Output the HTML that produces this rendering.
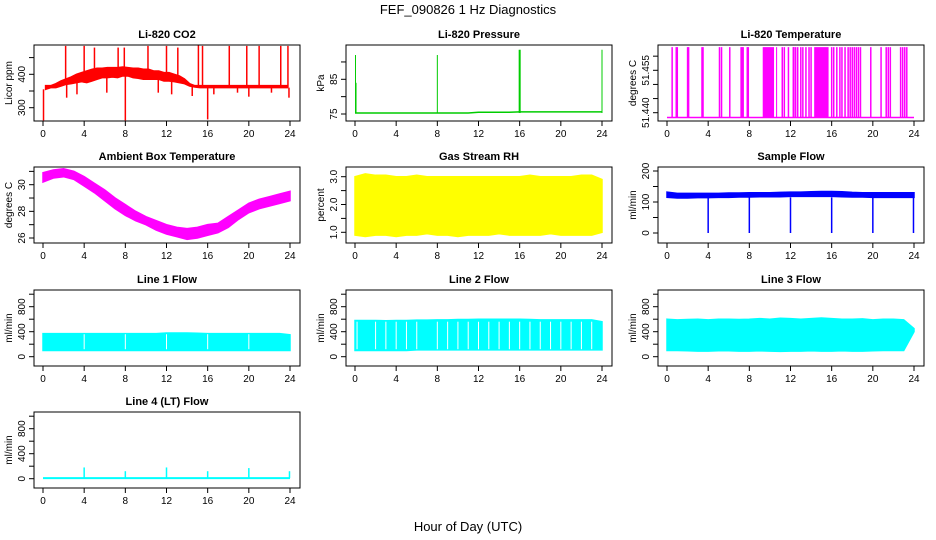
<!DOCTYPE html>
<html><head><meta charset="utf-8"><style>
html,body{margin:0;padding:0;background:#fff}
svg{display:block;font-family:"Liberation Sans",sans-serif}
</style></head><body>
<svg id="c" width="936" height="540" viewBox="0 0 936 540">
<rect width="936" height="540" fill="#fff"/>
<text x="468" y="14" text-anchor="middle" font-size="13">FEF_090826  1 Hz Diagnostics</text>
<text x="468" y="531" text-anchor="middle" font-size="13">Hour of Day (UTC)</text>
</svg>
<script>
// ---------- data ----------
const hourTicks=[0,4,8,12,16,20,24];
const co2Lo=[355,360,360,365,370,372,375,378,375,380,385,390,390,392,390,395,395,390,388,385,385,385,385,380,380,378,375,372,365,362,360,360,360,360,360,360,360,360,360,360,360,360,360,360,360,360,360,360];
const co2Hi=[366,366,372,380,386,392,400,405,410,415,418,418,420,420,420,422,420,418,418,415,415,410,410,405,405,400,395,386,372,366,366,366,366,366,366,366,366,366,366,366,366,366,366,366,366,366,366,366];
const co2SpikeH=[0.05,2.2,4.0,5.0,7.3,7.9,8.0,10.2,12.0,13.1,15.1,15.5,16.0,18.1,19.8,21.0,23.1,23.8,23.9,2.3,3.3,6.2,11.2,12.5,14.5,16.6,18.9,20.0,22.2];
const co2SpikeV=[262,485,485,480,480,480,262,485,485,480,487,485,265,485,485,485,485,485,330,330,340,345,345,340,335,340,345,333,345];
const presBase=[75.3,75.3,75.3,75.3,75.3,75.3,75.3,75.3,75.3,75.3,75.3,75.3,75.5,75.5,75.5,75.5,75.6,75.6,75.6,75.6,75.6,75.6,75.6,75.6,75.6];
const presSpikeH=[0.05,0.1,8.0,16.0,16.03,24.0];
const presSpikeV=[92,84,92,93.5,93.5,93.5];
const tempBase=51.4383;
const tempTop=51.4632;
const tempSpikeH=[0.5,0.9,1.0,2.0,2.1,3.4,3.5,5.1,5.3,6.1,7.2,7.3,7.4,7.8,7.9,11.2,11.4,11.8,12.3,12.5,12.7,13.0,13.2,13.5,13.8,14.0,16.0,16.2,16.5,16.8,17.0,17.3,17.6,17.8,18.0,18.2,18.4,18.6,18.8,19.8,20.8,21.3,21.5,21.7,22.7,22.9,23.1,23.3];
const tempBlockStart=[9.3,10.6,12.2,14.3];
const tempBlockEnd=[10.4,10.7,12.4,15.7];
const ambLo=[30.2,30.5,30.6,30.4,29.9,29.4,28.8,28.2,27.7,27.3,27.0,26.6,26.3,26.1,25.9,26.0,26.2,26.4,26.8,27.4,27.9,28.2,28.4,28.6,28.8];
const ambHi=[30.9,31.1,31.2,31.0,30.6,30.1,29.6,29.0,28.5,28.0,27.6,27.3,27.0,26.8,26.7,26.8,27.0,27.1,27.6,28.1,28.6,28.9,29.1,29.3,29.5];
const rhLo=[0.9,0.85,0.9,0.9,0.85,0.9,0.9,0.95,0.9,0.9,0.85,0.9,0.9,0.9,0.95,0.9,0.9,0.9,0.9,0.95,0.9,0.9,0.9,0.9,1.0];
const rhHi=[3.0,3.1,3.05,3.05,3.0,3.0,3.05,3.0,3.0,3.0,3.0,3.0,3.0,3.0,3.0,3.0,3.0,3.05,3.0,3.0,3.0,3.0,3.05,3.05,2.9];
const sfLo=[115,113,113,114,114,115,115,116,116,117,117,117,118,118,118,118,118,117,116,116,115,115,115,115,115];
const sfHi=[132,128,128,128,128,128,129,129,130,130,130,131,132,132,133,134,134,133,131,130,130,130,130,130,130];
const sfDropH=[4.0,8.0,12.0,16.0,20.0,23.95];
const l1Lo=[100,100,100,100,100,100,100,100,100,100,100,100,100,100,100,100,100,100,100,100,100,100,100,100,100];
const l1Hi=[370,370,370,370,370,370,370,370,370,370,370,370,380,380,380,375,370,370,370,370,370,370,370,370,350];
const l1GapH=[4.0,8.0,12.0,16.0,20.0];
const l2Lo=[100,100,100,100,100,100,110,110,110,110,110,110,110,110,110,110,110,110,110,110,110,110,110,110,110];
const l2Hi=[580,580,580,575,580,580,585,585,590,590,595,595,600,600,600,600,600,595,590,590,590,590,590,590,560];
const l2GapH=[0.2,2.0,3.0,4.0,5.0,6.0,8.0,9.0,10.0,11.0,12.0,13.0,14.0,15.0,16.0,17.0,18.0,19.0,20.0,21.0,22.0,23.0];
const l3Lo=[100,100,95,90,90,95,95,90,90,95,90,85,90,90,95,90,90,95,90,90,95,100,100,100,400];
const l3Hi=[600,590,595,600,590,600,600,595,600,610,600,615,610,600,610,620,610,600,600,605,590,600,600,590,450];
const l4Base=[10,10,10,10,10,10,10,10,10,10,10,10,10,10,10,10,10,10,10,10,10,10,10,10,10];
const l4SpikeH=[4.0,8.0,12.0,16.0,20.0,23.95];
const l4SpikeV=[180,120,180,120,170,120];

// ---------- layout ----------
const colL=[34,346,658], rowT=[45,167,290,412], BW=266, BH=76;
const NS="http://www.w3.org/2000/svg";
const svg=document.getElementById('c');
function el(tag,attrs,parent){const e=document.createElementNS(NS,tag);for(const k in attrs)e.setAttribute(k,attrs[k]);(parent||svg).appendChild(e);return e;}
function X(col,h){return colL[col]+9+h*247/24;}
function mkY(row,map){return v=>rowT[row]+map[1]+(v-map[0])*(map[3]-map[1])/(map[2]-map[0]);}

function panel(col,row,title,ylab,map,ticks,labels,name){
  const g=el('g',{});
  
  
  const L=colL[col],T=rowT[row],Y=mkY(row,map);
  const t=el('text',{x:L+BW/2,y:T-7,'text-anchor':'middle','font-size':11,'font-weight':'bold'},g);
  t.textContent=title;
  
  
  const yl=el('text',{x:0,y:0,'text-anchor':'middle','font-size':10,transform:`translate(${L-22},${T+BH/2}) rotate(-90)`},g);
  yl.textContent=ylab;
  
  
  ticks.forEach((v,i)=>{
    const y=Y(v);
    el('line',{x1:L-5,x2:L,y1:y,y2:y,stroke:'#000','stroke-width':1},g);
    if(labels[i]!==''){
      const tl=el('text',{x:0,y:0,'text-anchor':'middle','font-size':10,transform:`translate(${L-9},${y}) rotate(-90)`},g);
      tl.textContent=labels[i];
      
      
    }
  });
  hourTicks.forEach(h=>{
    const x=X(col,h);
    el('line',{x1:x,x2:x,y1:T+BH,y2:T+BH+5,stroke:'#000','stroke-width':1},g);
    const xl=el('text',{x:x,y:T+BH+16,'text-anchor':'middle','font-size':10},g);
    xl.textContent=h;
    
    
  });
  const data=el('g',{},g);
  
  
  const box=el('rect',{x:L,y:T,width:BW,height:BH,fill:'none',stroke:'#000','stroke-width':1});
  
  
  return {g:data,Y:Y,col:col};
}
function band(p,lo,hi,color,step){
  const pts=[];
  hi.forEach((v,i)=>pts.push(X(p.col,i*step+(step<1?step/2:0))+','+p.Y(v)));
  for(let i=lo.length-1;i>=0;i--)pts.push(X(p.col,i*step+(step<1?step/2:0))+','+p.Y(lo[i]));
  const b=el('polygon',{points:pts.join(' '),fill:color,stroke:color,'stroke-width':1.5},p.g);
  
  
}
function vline(p,h,v0,v1,color,w){
  const l=el('line',{x1:X(p.col,h),x2:X(p.col,h),y1:p.Y(v0),y2:p.Y(v1),stroke:color,'stroke-width':w||1.5},p.g);
  
  
}
function poly(p,vals,color,w){
  const pts=vals.map((v,i)=>X(p.col,i)+','+p.Y(v)).join(' ');
  const l=el('polyline',{points:pts,fill:'none',stroke:color,'stroke-width':w||1.5},p.g);
  
  
}

// CO2
let p=panel(0,0,'Li-820 CO2','Licor ppm',[300,62.7,400,29.3],[300,350,400,450],['300','','400',''],'co2');
band(p,co2Lo,co2Hi,'#ff0000',0.5);
co2SpikeH.forEach((h,i)=>vline(p,h,co2Lo[Math.min(47,Math.floor(h*2))],co2SpikeV[i],'#ff0000',1.5));
// Pressure
p=panel(1,0,'Li-820 Pressure','kPa',[75,69,85,34.3],[75,80,85,90],['75','','85',''],'pressure');
poly(p,presBase,'#00cc00',1.5);
presSpikeH.forEach((h,i)=>vline(p,h,75.3,presSpikeV[i],'#00cc00',h===16?2:1));
// Li-820 Temperature
p=panel(2,0,'Li-820 Temperature','degrees C',[51.440,67.7,51.455,25.3],[51.440,51.445,51.450,51.455,51.460],['51.440','','','51.455',''],'licor-temp');
{const l=el('line',{x1:X(2,0),x2:X(2,24),y1:p.Y(tempBase),y2:p.Y(tempBase),stroke:'#ff00ff','stroke-width':1.5},p.g);}
tempSpikeH.forEach(h=>vline(p,h,tempBase,tempTop,'#ff00ff',1.5));
tempBlockStart.forEach((s,i)=>{const r=el('rect',{x:X(2,s),y:p.Y(tempTop),width:X(2,tempBlockEnd[i])-X(2,s),height:p.Y(tempBase)-p.Y(tempTop),fill:'#ff00ff'},p.g);});
// Ambient
p=panel(0,1,'Ambient Box Temperature','degrees C',[26,71,30,17.7],[26,27,28,29,30,31],['26','','28','','30',''],'ambient');
band(p,ambLo,ambHi,'#ff00ff',1);
// RH
p=panel(1,1,'Gas Stream RH','percent',[1,65.3,3,9.7],[1,1.5,2,2.5,3],['1.0','','2.0','','3.0'],'rh');
band(p,rhLo,rhHi,'#ffff00',1);
// Sample flow
p=panel(2,1,'Sample Flow','ml/min',[0,66,200,4],[0,50,100,150,200],['0','','100','','200'],'sample-flow');
band(p,sfLo,sfHi,'#0000ff',1);
sfDropH.forEach(h=>vline(p,h,0,115,'#0000ff',1.5));
// Line flows
const lfMap=[0,66.7,800,16.7],lfT=[0,200,400,600,800,1000],lfL=['0','','400','','800',''];
p=panel(0,2,'Line 1 Flow','ml/min',lfMap,lfT,lfL,'line1-flow');
band(p,l1Lo,l1Hi,'#00ffff',1);
l1GapH.forEach(h=>vline(p,h,120,360,'#ffffff',1));
p=panel(1,2,'Line 2 Flow','ml/min',lfMap,lfT,lfL,'line2-flow');
band(p,l2Lo,l2Hi,'#00ffff',1);
l2GapH.forEach(h=>vline(p,h,120,560,'#ffffff',1));
p=panel(2,2,'Line 3 Flow','ml/min',lfMap,lfT,lfL,'line3-flow');
band(p,l3Lo,l3Hi,'#00ffff',1);
p=panel(0,3,'Line 4 (LT) Flow','ml/min',lfMap,lfT,lfL,'line4-flow');
poly(p,l4Base,'#00ffff',2);
l4SpikeH.forEach((h,i)=>vline(p,h,10,l4SpikeV[i],'#00ffff',1.5));
</script>
</body></html>
